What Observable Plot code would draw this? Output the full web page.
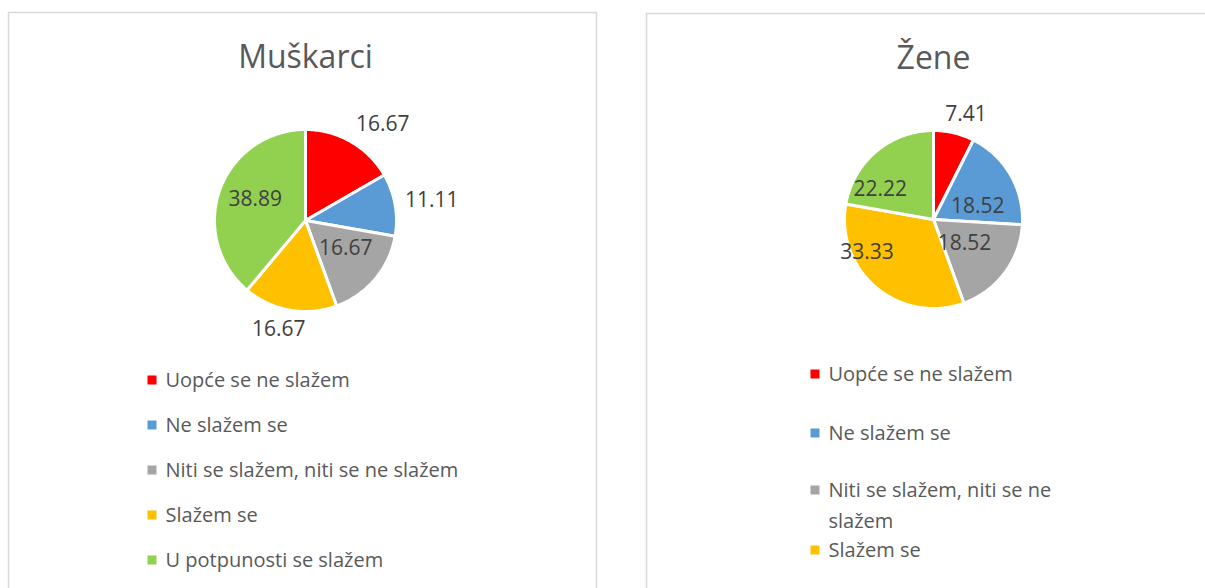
<!DOCTYPE html>
<html><head><meta charset="utf-8">
<script src="https://cdn.jsdelivr.net/npm/d3@7"></script>
<script src="https://cdn.jsdelivr.net/npm/@observablehq/plot@0.6"></script>
<style>html,body{margin:0;padding:0;background:#fff;overflow:hidden}</style>
</head><body><div id="chart"></div>
<script>
// ---- data ----
const categories = ["Uopće se ne slažem", "Ne slažem se", "Niti se slažem, niti se ne slažem", "Slažem se", "U potpunosti se slažem"];
const colors = ["#FF0000", "#5B9BD5", "#A5A5A5", "#FFC000", "#92D050"];
const titles = ["Muškarci", "Žene"];
const muskarci = [16.67, 11.11, 16.67, 16.67, 38.89];
const zene = [7.41, 18.52, 18.52, 33.33, 22.22];

// ---- label placement (Excel "best fit"): mode, radial factor, angle shift (deg) ----
const placeM = [["out", 0, 0], ["out", 0, 0], ["in", 0.54, -5], ["out", 0, 0], ["in", 0.6, 3]];
const placeZ = [["out", 0, 0], ["in", 0.52, 13], ["in", 0.44, 1], ["in", 0.83, 24], ["in", 0.69, -20]];

// ---- layout ----
const W = 1205, H = 588;
const FONT = "Open Sans";
const panels = [
  {x1: 8.5, y1: 12.5, x2: 596.5, y2: 620},
  {x1: 646.5, y1: 13.5, x2: 1230, y2: 620}
];
const pies = [
  {title: titles[0], values: muskarci, place: placeM, cx: 305, cy: 220, r: 91, ty: 57,
   lx: 152, ly: [380, 425, 470, 515, 560], wrap: 420},
  {title: titles[1], values: zene, place: placeZ, cx: 933, cy: 219, r: 89, ty: 58,
   lx: 815, ly: [374, 433, 490, 550, 625], wrap: 245}
];
const labelSize = 21, legendSize = 20, titleSize = 32, wrapLine = 31.5;

const ctx = document.createElement("canvas").getContext("2d");
function measure(t, size) { ctx.font = `${size}px "${FONT}"`; return ctx.measureText(t).width; }
function wrapText(t, size, maxW) {
  const words = t.split(" "); const lines = []; let cur = "";
  for (const w of words) {
    const test = cur ? cur + " " + w : w;
    if (cur && measure(test, size) > maxW) { lines.push(cur); cur = w; } else cur = test;
  }
  if (cur) lines.push(cur);
  return lines;
}
const clamp = v => Math.max(-1, Math.min(1, v));

const slicePts = [], labels = [], legendMarks = [], legendTexts = [], titleRows = [];
pies.forEach((p, pi) => {
  titleRows.push({x: p.cx, y: p.ty, text: p.title});
  const arcs = d3.pie().sort(null).startAngle(0).endAngle(2 * Math.PI)(p.values);
  arcs.forEach((a, i) => {
    const id = pi + "-" + i;
    slicePts.push({id, x: p.cx, y: p.cy, color: colors[i]});
    const n = Math.max(2, Math.ceil((a.endAngle - a.startAngle) / (Math.PI / 180)));
    for (let k = 0; k <= n; k++) {
      const t = a.startAngle + (a.endAngle - a.startAngle) * k / n;
      slicePts.push({id, x: p.cx + p.r * Math.sin(t), y: p.cy - p.r * Math.cos(t), color: colors[i]});
    }
    slicePts.push({id, x: p.cx, y: p.cy, color: colors[i]});
    const [mode, kf, da] = p.place[i];
    const text = a.value.toFixed(2);
    const mid = (a.startAngle + a.endAngle) / 2 + da * Math.PI / 180;
    let x, y;
    if (mode === "out") {
      const w = measure(text, labelSize), h = labelSize * 0.85, rr = p.r + 10;
      x = p.cx + rr * Math.sin(mid) + w / 2 * clamp(2 * Math.sin(mid));
      y = p.cy - rr * Math.cos(mid) - h / 2 * clamp(2 * Math.cos(mid));
    } else {
      x = p.cx + kf * p.r * Math.sin(mid);
      y = p.cy - kf * p.r * Math.cos(mid);
    }
    labels.push({x, y, text});
  });
  categories.forEach((c, i) => {
    const y0 = p.ly[i];
    legendMarks.push({x1: p.lx - 4.5, x2: p.lx + 4.5, y1: y0 - 4.5, y2: y0 + 4.5, color: colors[i]});
    wrapText(c, legendSize, p.wrap).forEach((line, j) => {
      legendTexts.push({x: p.lx + 13, y: y0 + j * wrapLine, text: line});
    });
  });
});

const chart = Plot.plot({
  width: W, height: H, margin: 0,
  x: {domain: [0, W], range: [0, W], axis: null},
  y: {domain: [0, H], range: [0, H], axis: null},
  color: {type: "identity"},
  style: {fontFamily: FONT, background: "#fff"},
  marks: [
    Plot.rect(panels, {x1: "x1", x2: "x2", y1: "y1", y2: "y2", fill: "white", stroke: "#d9d9d9", strokeWidth: 1.5}),
    Plot.text(titleRows, {x: "x", y: "y", text: "text", fontSize: titleSize, fill: "#595959"}),
    Plot.line(slicePts, {x: "x", y: "y", z: "id", fill: "color", stroke: "white", strokeWidth: 3, strokeLinejoin: "round"}),
    Plot.text(labels, {x: "x", y: "y", text: "text", fontSize: labelSize, fill: "#404040"}),
    Plot.rect(legendMarks, {x1: "x1", x2: "x2", y1: "y1", y2: "y2", fill: "color"}),
    Plot.text(legendTexts, {x: "x", y: "y", text: "text", fontSize: legendSize, fill: "#595959", textAnchor: "start"})
  ]
});
document.getElementById("chart").appendChild(chart);
</script>
</body></html>
